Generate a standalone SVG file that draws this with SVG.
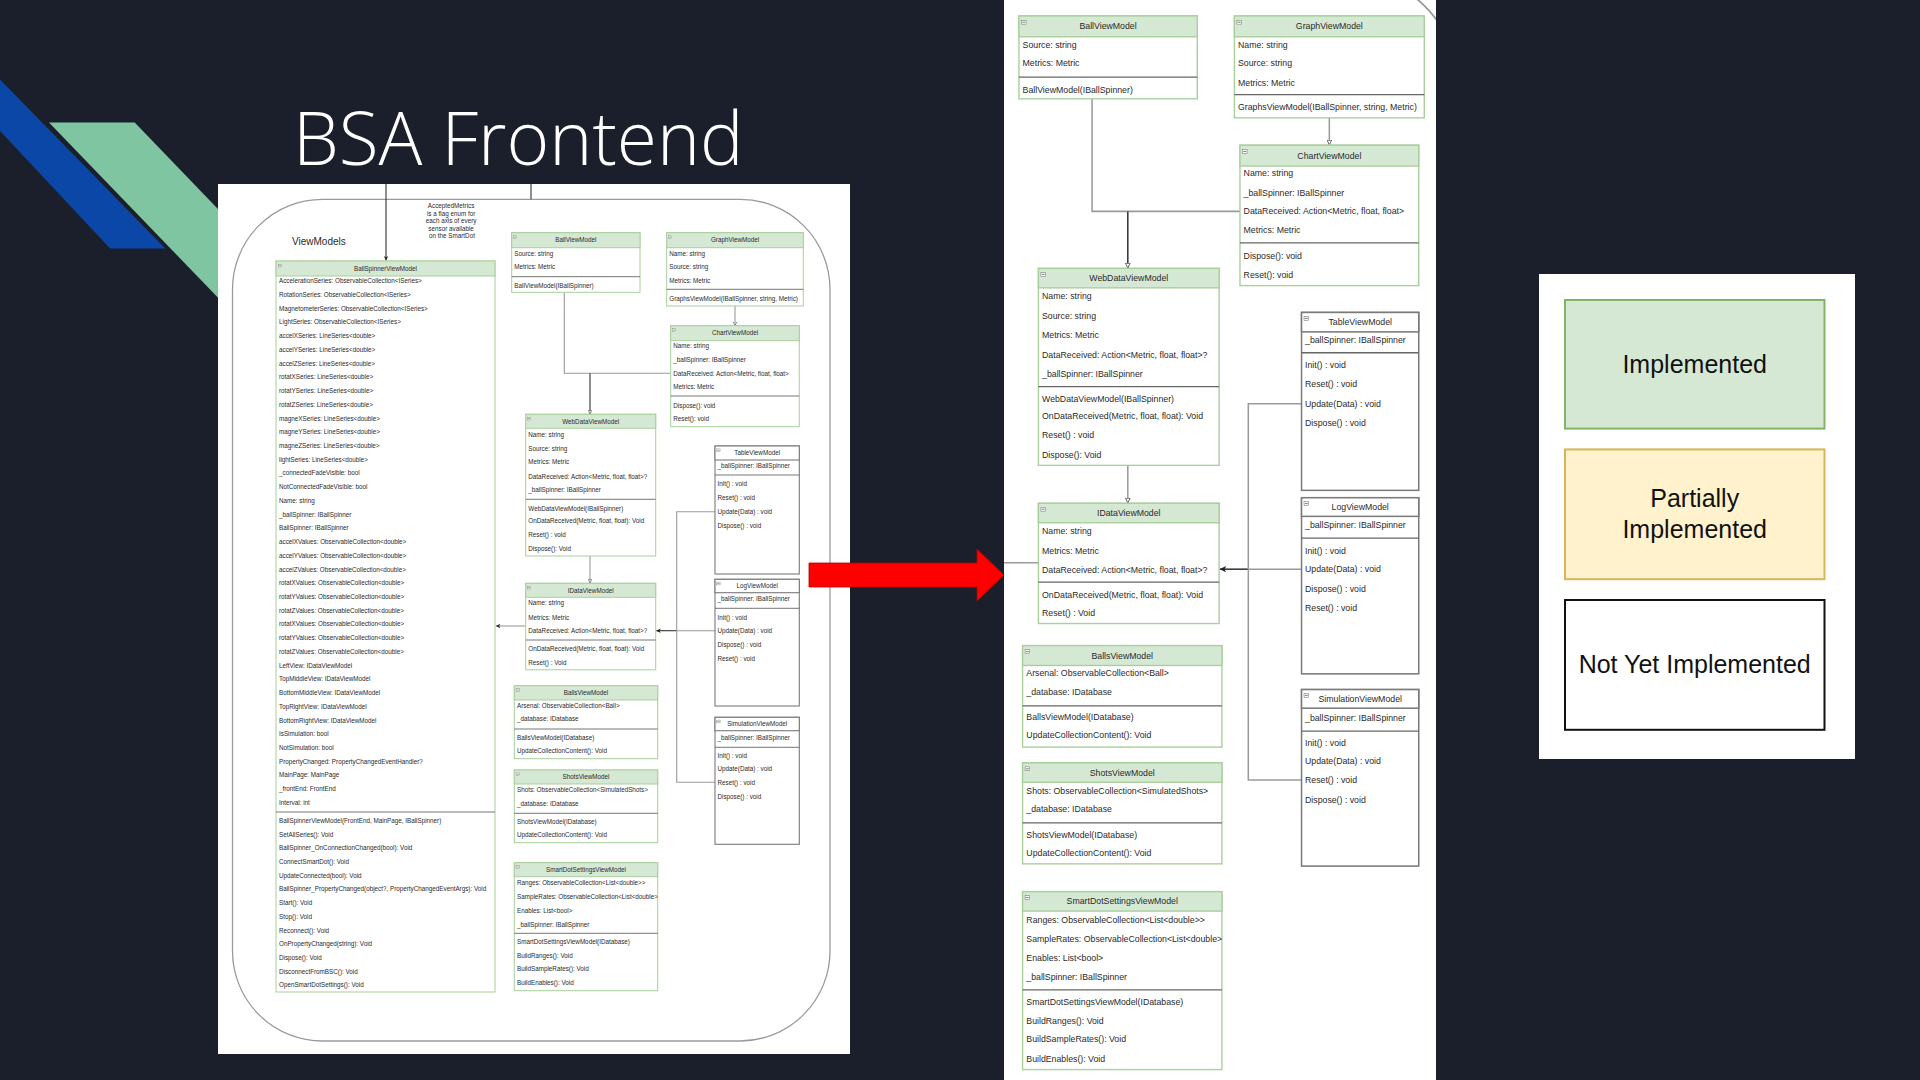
<svg xmlns="http://www.w3.org/2000/svg" xmlns:xlink="http://www.w3.org/1999/xlink" width="1920" height="1080" viewBox="0 0 1920 1080">
  <style>
    .t{font-family:"Liberation Sans",Arial,sans-serif;font-size:6.3px;fill:#2a2a2a}
    .h{font-family:"Liberation Sans",Arial,sans-serif;font-size:6.3px;fill:#2a2a2a;text-anchor:middle}
    .impl .box{fill:#fff;stroke:#a9cf9b;stroke-width:1}
    .impl .hd{fill:#d5e8d4;stroke:#a9cf9b;stroke-width:1}
    .todo .box{fill:#fff;stroke:#7a7a7a;stroke-width:1.1}
    .todo .hd{fill:#fff;stroke:#7a7a7a;stroke-width:1.1}
    .sep{stroke:#666;stroke-width:0.9}
    .ic{fill:#fff;stroke:#777;stroke-width:0.4}
    .icl{stroke:#444;stroke-width:0.5}
    .cn{fill:none;stroke:#9a9a9a;stroke-width:1.1}
    .cd{fill:none;stroke:#333;stroke-width:1.1}
    .lg{font-family:"Liberation Sans",Arial,sans-serif;font-size:25px;fill:#111;text-anchor:middle}
  </style>
  <defs>
    <marker id="hollow" viewBox="0 0 6 6" markerWidth="4" markerHeight="4" refX="6" refY="3" orient="auto" markerUnits="userSpaceOnUse">
      <path d="M0.5,0.5 L5.5,3 L0.5,5.5 z" fill="#fff" stroke="#333" stroke-width="0.8"/>
    </marker>
    <marker id="solid" viewBox="0 0 6 6" markerWidth="4.5" markerHeight="4.5" refX="6" refY="3" orient="auto" markerUnits="userSpaceOnUse">
      <path d="M0,0 L6,3 L0,6 L1.5,3 z" fill="#222"/>
    </marker>
    <clipPath id="sdClip"><rect x="514.3" y="862.7" width="143.4" height="128"/></clipPath>
    <clipPath id="zoomClip"><rect x="1004" y="0" width="432" height="1080"/></clipPath>
  </defs>

  <!-- slide background -->
  <rect width="1920" height="1080" fill="#1b1f2b"/>
  <polygon points="0,79.6 165.3,248.6 110.2,248.6 0,131" fill="#0b47a6"/>
  <polygon points="49,122.5 134.7,122.5 323,318 237.6,318" fill="#80c5a1"/>
  <text x="293" y="165" font-family="'Open Sans','Liberation Sans',sans-serif" font-weight="300" font-size="73" fill="#ffffff">BSA Frontend</text>

  <!-- left sheet: full ViewModels package -->
  <rect x="218" y="184" width="632" height="870" fill="#ffffff"/>

  <g id="vm-diagram">
    <rect id="pkg" x="232.5" y="199.3" width="597.5" height="841.7" rx="90" ry="90" fill="none" stroke="#9a9a9a" stroke-width="1.3"/>
    <text class="t" x="292" y="245" style="font-size:10px">ViewModels</text>
    <text class="h" x="452" y="208">
      <tspan x="452" dy="0">AcceptedMetrics</tspan>
      <tspan x="452" dy="7.5">is a flag enum for</tspan>
      <tspan x="452" dy="7.5">each axis of every</tspan>
      <tspan x="452" dy="7.5">sensor available</tspan>
      <tspan x="452" dy="7.5">on the SmartDot</tspan>
    </text>

    <g id="connectors">
      <line class="cd" x1="386" y1="184" x2="386" y2="260.5" marker-end="url(#solid)"/>
      <line class="cd" x1="531" y1="184" x2="531" y2="199.3"/>
      <polyline class="cn" points="564.3,292.3 564.3,373.3 670.7,373.3"/>
      <line class="cd" x1="590" y1="373.3" x2="590" y2="414.3" marker-end="url(#hollow)"/>
      <line class="cn" x1="735" y1="306" x2="735" y2="325.7" marker-end="url(#hollow)"/>
      <line class="cn" x1="590" y1="556" x2="590" y2="583.3" marker-end="url(#hollow)"/>
      <line class="cn" x1="525.7" y1="626" x2="495.8" y2="626" marker-end="url(#solid)"/>
      <line class="cn" x1="715" y1="630.7" x2="676.7" y2="630.7"/>
      <line class="cd" x1="676.7" y1="630.7" x2="656.2" y2="630.7" marker-end="url(#solid)"/>
      <polyline class="cn" points="715,511.7 676.7,511.7 676.7,782.3 715,782.3"/>
    </g>

    <g id="BallSpinnerViewModel" class="impl">
      <rect class="box" x="276" y="261" width="219" height="731"/>
      <rect class="hd" x="276" y="261" width="219" height="15"/>
      <rect class="ic" x="278.5" y="264.2" width="3.3" height="2.8"/><line class="icl" x1="279.1" y1="265.6" x2="281.2" y2="265.6"/>
      <text class="h" x="385.5" y="270.7">BallSpinnerViewModel</text>
      <text class="t" x="279" y="283.2">
        <tspan x="279" dy="0">AccelerationSeries: ObservableCollection&lt;ISeries&gt;</tspan>
        <tspan x="279" dy="13.73">RotationSeries: ObservableCollection&lt;ISeries&gt;</tspan>
        <tspan x="279" dy="13.73">MagnetometerSeries: ObservableCollection&lt;ISeries&gt;</tspan>
        <tspan x="279" dy="13.73">LightSeries: ObservableCollection&lt;ISeries&gt;</tspan>
        <tspan x="279" dy="13.73">accelXSeries: LineSeries&lt;double&gt;</tspan>
        <tspan x="279" dy="13.73">accelYSeries: LineSeries&lt;double&gt;</tspan>
        <tspan x="279" dy="13.73">accelZSeries: LineSeries&lt;double&gt;</tspan>
        <tspan x="279" dy="13.73">rotatXSeries: LineSeries&lt;double&gt;</tspan>
        <tspan x="279" dy="13.73">rotatYSeries: LineSeries&lt;double&gt;</tspan>
        <tspan x="279" dy="13.73">rotatZSeries: LineSeries&lt;double&gt;</tspan>
        <tspan x="279" dy="13.73">magneXSeries: LineSeries&lt;double&gt;</tspan>
        <tspan x="279" dy="13.73">magneYSeries: LineSeries&lt;double&gt;</tspan>
        <tspan x="279" dy="13.73">magneZSeries: LineSeries&lt;double&gt;</tspan>
        <tspan x="279" dy="13.73">lightSeries: LineSeries&lt;double&gt;</tspan>
        <tspan x="279" dy="13.73">_connectedFadeVisible: bool</tspan>
        <tspan x="279" dy="13.73">NotConnectedFadeVisible: bool</tspan>
        <tspan x="279" dy="13.73">Name: string</tspan>
        <tspan x="279" dy="13.73">_ballSpinner: IBallSpinner</tspan>
        <tspan x="279" dy="13.73">BallSpinner: IBallSpinner</tspan>
        <tspan x="279" dy="13.73">accelXValues: ObservableCollection&lt;double&gt;</tspan>
        <tspan x="279" dy="13.73">accelYValues: ObservableCollection&lt;double&gt;</tspan>
        <tspan x="279" dy="13.73">accelZValues: ObservableCollection&lt;double&gt;</tspan>
        <tspan x="279" dy="13.73">rotatXValues: ObservableCollection&lt;double&gt;</tspan>
        <tspan x="279" dy="13.73">rotatYValues: ObservableCollection&lt;double&gt;</tspan>
        <tspan x="279" dy="13.73">rotatZValues: ObservableCollection&lt;double&gt;</tspan>
        <tspan x="279" dy="13.73">rotatXValues: ObservableCollection&lt;double&gt;</tspan>
        <tspan x="279" dy="13.73">rotatYValues: ObservableCollection&lt;double&gt;</tspan>
        <tspan x="279" dy="13.73">rotatZValues: ObservableCollection&lt;double&gt;</tspan>
        <tspan x="279" dy="13.73">LeftView: IDataViewModel</tspan>
        <tspan x="279" dy="13.73">TopMiddleView: IDataViewModel</tspan>
        <tspan x="279" dy="13.73">BottomMiddleView: IDataViewModel</tspan>
        <tspan x="279" dy="13.73">TopRightView: IDataViewModel</tspan>
        <tspan x="279" dy="13.73">BottomRightView: IDataViewModel</tspan>
        <tspan x="279" dy="13.73">IsSimulation: bool</tspan>
        <tspan x="279" dy="13.73">NotSimulation: bool</tspan>
        <tspan x="279" dy="13.73">PropertyChanged: PropertyChangedEventHandler?</tspan>
        <tspan x="279" dy="13.73">MainPage: MainPage</tspan>
        <tspan x="279" dy="13.73">_frontEnd: FrontEnd</tspan>
        <tspan x="279" dy="13.73">Interval: int</tspan>
      </text>
      <line class="sep" x1="276" y1="812" x2="495" y2="812"/>
      <text class="t" x="279" y="822.9">
        <tspan x="279" dy="0">BallSpinnerViewModel(FrontEnd, MainPage, IBallSpinner)</tspan>
        <tspan x="279" dy="13.7">SetAllSeries(): Void</tspan>
        <tspan x="279" dy="13.7">BallSpinner_OnConnectionChanged(bool): Void</tspan>
        <tspan x="279" dy="13.7">ConnectSmartDot(): Void</tspan>
        <tspan x="279" dy="13.7">UpdateConnected(bool): Void</tspan>
        <tspan x="279" dy="13.7">BallSpinner_PropertyChanged(object?, PropertyChangedEventArgs): Void</tspan>
        <tspan x="279" dy="13.7">Start(): Void</tspan>
        <tspan x="279" dy="13.7">Stop(): Void</tspan>
        <tspan x="279" dy="13.7">Reconnect(): Void</tspan>
        <tspan x="279" dy="13.7">OnPropertyChanged(string): Void</tspan>
        <tspan x="279" dy="13.7">Dispose(): Void</tspan>
        <tspan x="279" dy="13.7">DisconnectFromBSC(): Void</tspan>
        <tspan x="279" dy="13.7">OpenSmartDotSettings(): Void</tspan>
      </text>
    </g>

    <g id="BallViewModel" class="impl">
      <rect class="box" x="511.7" y="232.7" width="128.3" height="59.6"/>
      <rect class="hd" x="511.7" y="232.7" width="128.3" height="15"/>
      <rect class="ic" x="513.5" y="235.8" width="3.3" height="2.8"/><line class="icl" x1="514.1" y1="237.2" x2="516.2" y2="237.2"/>
      <text class="h" x="575.8" y="242.4">BallViewModel</text>
      <text class="t" x="514.3" y="255.5">Source: string</text>
      <text class="t" x="514.3" y="268.9">Metrics: Metric</text>
      <line class="sep" x1="511.7" y1="276.7" x2="640" y2="276.7"/>
      <text class="t" x="514.3" y="288.2">BallViewModel(IBallSpinner)</text>
    </g>

    <g id="GraphViewModel" class="impl">
      <rect class="box" x="666.7" y="232.7" width="136.6" height="73.3"/>
      <rect class="hd" x="666.7" y="232.7" width="136.6" height="15"/>
      <rect class="ic" x="668.5" y="235.8" width="3.3" height="2.8"/><line class="icl" x1="669.1" y1="237.2" x2="671.2" y2="237.2"/>
      <text class="h" x="735" y="242.4">GraphViewModel</text>
      <text class="t" x="669.3" y="255.5">Name: string</text>
      <text class="t" x="669.3" y="268.9">Source: string</text>
      <text class="t" x="669.3" y="282.9">Metrics: Metric</text>
      <line class="sep" x1="666.7" y1="289.3" x2="803.3" y2="289.3"/>
      <text class="t" x="669.3" y="300.5">GraphsViewModel(IBallSpinner, string, Metric)</text>
    </g>

    <g id="ChartViewModel" class="impl">
      <rect class="box" x="670.7" y="325.7" width="128.6" height="101"/>
      <rect class="hd" x="670.7" y="325.7" width="128.6" height="15"/>
      <rect class="ic" x="672.5" y="328.8" width="3.3" height="2.8"/><line class="icl" x1="673.1" y1="330.2" x2="675.2" y2="330.2"/>
      <text class="h" x="735" y="335.4">ChartViewModel</text>
      <text class="t" x="673.3" y="347.9">Name: string</text>
      <text class="t" x="673.3" y="362.2">_ballSpinner: IBallSpinner</text>
      <text class="t" x="673.3" y="375.5">DataReceived: Action&lt;Metric, float, float&gt;</text>
      <text class="t" x="673.3" y="388.9">Metrics: Metric</text>
      <line class="sep" x1="670.7" y1="396" x2="799.3" y2="396"/>
      <text class="t" x="673.3" y="407.9">Dispose(): void</text>
      <text class="t" x="673.3" y="420.9">Reset(): void</text>
    </g>

    <g id="WebDataViewModel" class="impl">
      <rect class="box" x="525.7" y="414.3" width="130" height="141.7"/>
      <rect class="hd" x="525.7" y="414.3" width="130" height="14"/>
      <rect class="ic" x="527.5" y="417.2" width="3.3" height="2.8"/><line class="icl" x1="528.1" y1="418.6" x2="530.2" y2="418.6"/>
      <text class="h" x="590.7" y="423.5">WebDataViewModel</text>
      <text class="t" x="528.3" y="436.5">Name: string</text>
      <text class="t" x="528.3" y="450.9">Source: string</text>
      <text class="t" x="528.3" y="464.2">Metrics: Metric</text>
      <text class="t" x="528.3" y="478.5">DataReceived: Action&lt;Metric, float, float&gt;?</text>
      <text class="t" x="528.3" y="492.2">_ballSpinner: IBallSpinner</text>
      <line class="sep" x1="525.7" y1="499.3" x2="655.7" y2="499.3"/>
      <text class="t" x="528.3" y="510.5">WebDataViewModel(IBallSpinner)</text>
      <text class="t" x="528.3" y="522.9">OnDataReceived(Metric, float, float): Void</text>
      <text class="t" x="528.3" y="536.5">Reset() : void</text>
      <text class="t" x="528.3" y="550.9">Dispose(): Void</text>
    </g>

    <g id="IDataViewModel" class="impl">
      <rect class="box" x="525.7" y="583.3" width="130" height="86.5"/>
      <rect class="hd" x="525.7" y="583.3" width="130" height="14"/>
      <rect class="ic" x="527.5" y="586.2" width="3.3" height="2.8"/><line class="icl" x1="528.1" y1="587.6" x2="530.2" y2="587.6"/>
      <text class="h" x="590.7" y="592.5">IDataViewModel</text>
      <text class="t" x="528.3" y="605.2">Name: string</text>
      <text class="t" x="528.3" y="619.5">Metrics: Metric</text>
      <text class="t" x="528.3" y="633.2">DataReceived: Action&lt;Metric, float, float&gt;?</text>
      <line class="sep" x1="525.7" y1="640" x2="655.7" y2="640"/>
      <text class="t" x="528.3" y="651.2">OnDataReceived(Metric, float, float): Void</text>
      <text class="t" x="528.3" y="664.5">Reset() : Void</text>
    </g>

    <g id="BallsViewModel" class="impl">
      <rect class="box" x="514.3" y="685.7" width="143.4" height="73"/>
      <rect class="hd" x="514.3" y="685.7" width="143.4" height="14.3"/>
      <rect class="ic" x="516.1" y="688.6" width="3.3" height="2.8"/><line class="icl" x1="516.7" y1="690" x2="518.8" y2="690"/>
      <text class="h" x="586" y="695.1">BallsViewModel</text>
      <text class="t" x="517" y="707.9">Arsenal: ObservableCollection&lt;Ball&gt;</text>
      <text class="t" x="517" y="721.2">_database: IDatabase</text>
      <line class="sep" x1="514.3" y1="729" x2="657.7" y2="729"/>
      <text class="t" x="517" y="739.5">BallsViewModel(IDatabase)</text>
      <text class="t" x="517" y="752.5">UpdateCollectionContent(): Void</text>
    </g>

    <g id="ShotsViewModel" class="impl">
      <rect class="box" x="514.3" y="770" width="143.4" height="72.7"/>
      <rect class="hd" x="514.3" y="770" width="143.4" height="14"/>
      <rect class="ic" x="516.1" y="772.9" width="3.3" height="2.8"/><line class="icl" x1="516.7" y1="774.3" x2="518.8" y2="774.3"/>
      <text class="h" x="586" y="779.2">ShotsViewModel</text>
      <text class="t" x="517" y="792.2">Shots: ObservableCollection&lt;SimulatedShots&gt;</text>
      <text class="t" x="517" y="805.5">_database: IDatabase</text>
      <line class="sep" x1="514.3" y1="813.3" x2="657.7" y2="813.3"/>
      <text class="t" x="517" y="824.2">ShotsViewModel(IDatabase)</text>
      <text class="t" x="517" y="836.9">UpdateCollectionContent(): Void</text>
    </g>

    <g id="SmartDotSettingsViewModel" class="impl">
      <rect class="box" x="514.3" y="862.7" width="143.4" height="128"/>
      <rect class="hd" x="514.3" y="862.7" width="143.4" height="14"/>
      <rect class="ic" x="516.1" y="865.6" width="3.3" height="2.8"/><line class="icl" x1="516.7" y1="867" x2="518.8" y2="867"/>
      <text class="h" x="586" y="871.9">SmartDotSettingsViewModel</text>
      <text class="t" x="517" y="884.9">Ranges: ObservableCollection&lt;List&lt;double&gt;&gt;</text>
      <text class="t" x="517" y="899.2" clip-path="url(#sdClip)">SampleRates: ObservableCollection&lt;List&lt;double&gt;&gt;</text>
      <text class="t" x="517" y="912.5">Enables: List&lt;bool&gt;</text>
      <text class="t" x="517" y="926.5">_ballSpinner: IBallSpinner</text>
      <line class="sep" x1="514.3" y1="933.3" x2="657.7" y2="933.3"/>
      <text class="t" x="517" y="944.2">SmartDotSettingsViewModel(IDatabase)</text>
      <text class="t" x="517" y="958.2">BuildRanges(): Void</text>
      <text class="t" x="517" y="971.2">BuildSampleRates(): Void</text>
      <text class="t" x="517" y="984.9">BuildEnables(): Void</text>
    </g>

    <g id="TableViewModel" class="todo">
      <rect class="box" x="715" y="446" width="84.3" height="128"/>
      <rect class="hd" x="715" y="446" width="84.3" height="14"/>
      <rect class="ic" x="716.8" y="448.9" width="3.3" height="2.8"/><line class="icl" x1="717.4" y1="450.3" x2="719.5" y2="450.3"/>
      <text class="h" x="757.2" y="455.2">TableViewModel</text>
      <text class="t" x="717.5" y="468.2">_ballSpinner: IBallSpinner</text>
      <line class="sep" x1="715" y1="475" x2="799.3" y2="475"/>
      <text class="t" x="717.5" y="486.2">Init() : void</text>
      <text class="t" x="717.5" y="499.9">Reset() : void</text>
      <text class="t" x="717.5" y="513.9">Update(Data) : void</text>
      <text class="t" x="717.5" y="527.5">Dispose() : void</text>
    </g>

    <g id="LogViewModel" class="todo">
      <rect class="box" x="715" y="579.3" width="84.3" height="126.7"/>
      <rect class="hd" x="715" y="579.3" width="84.3" height="13.4"/>
      <rect class="ic" x="716.8" y="582.1" width="3.3" height="2.8"/><line class="icl" x1="717.4" y1="583.5" x2="719.5" y2="583.5"/>
      <text class="h" x="757.2" y="588.2">LogViewModel</text>
      <text class="t" x="717.5" y="601.2">_ballSpinner: IBallSpinner</text>
      <line class="sep" x1="715" y1="608.3" x2="799.3" y2="608.3"/>
      <text class="t" x="717.5" y="619.5">Init() : void</text>
      <text class="t" x="717.5" y="632.9">Update(Data) : void</text>
      <text class="t" x="717.5" y="647.2">Dispose() : void</text>
      <text class="t" x="717.5" y="660.5">Reset() : void</text>
    </g>

    <g id="SimulationViewModel" class="todo">
      <rect class="box" x="715" y="717.3" width="84.3" height="127"/>
      <rect class="hd" x="715" y="717.3" width="84.3" height="13.4"/>
      <rect class="ic" x="716.8" y="720.1" width="3.3" height="2.8"/><line class="icl" x1="717.4" y1="721.5" x2="719.5" y2="721.5"/>
      <text class="h" x="757.2" y="726.2">SimulationViewModel</text>
      <text class="t" x="717.5" y="739.9">_ballSpinner: IBallSpinner</text>
      <line class="sep" x1="715" y1="747.3" x2="799.3" y2="747.3"/>
      <text class="t" x="717.5" y="758.2">Init() : void</text>
      <text class="t" x="717.5" y="771.2">Update(Data) : void</text>
      <text class="t" x="717.5" y="784.5">Reset() : void</text>
      <text class="t" x="717.5" y="798.9">Dispose() : void</text>
    </g>
  </g>

  <!-- pointer to the enlarged view -->
  <polygon points="809,563 977,563 977,549 1004,575 977,601 977,587 809,587" fill="#ff0000" stroke="#b40000" stroke-width="0.8"/>

  <!-- enlarged view of the right half of the package -->
  <rect x="1004" y="0" width="432" height="1080" fill="#ffffff"/>
  <g clip-path="url(#zoomClip)">
    <use xlink:href="#vm-diagram" href="#vm-diagram" transform="translate(307.7,-307.5) scale(1.39)"/>
  </g>

  <!-- legend -->
  <g id="legend">
    <rect x="1539" y="274" width="316" height="485" fill="#ffffff"/>
    <g id="legend-implemented">
      <rect x="1565" y="300" width="259.5" height="128.6" fill="#d5e8d4" stroke="#82b366" stroke-width="2"/>
      <text class="lg" x="1694.7" y="373">Implemented</text>
    </g>
    <g id="legend-partial">
      <rect x="1565" y="449.4" width="259.5" height="129.8" fill="#fff2cc" stroke="#d6b656" stroke-width="2"/>
      <text class="lg" x="1694.7" y="507">Partially</text>
      <text class="lg" x="1694.7" y="538">Implemented</text>
    </g>
    <g id="legend-todo">
      <rect x="1565" y="600" width="259.5" height="129.8" fill="#ffffff" stroke="#111" stroke-width="2"/>
      <text class="lg" x="1694.7" y="673">Not Yet Implemented</text>
    </g>
  </g>
</svg>
